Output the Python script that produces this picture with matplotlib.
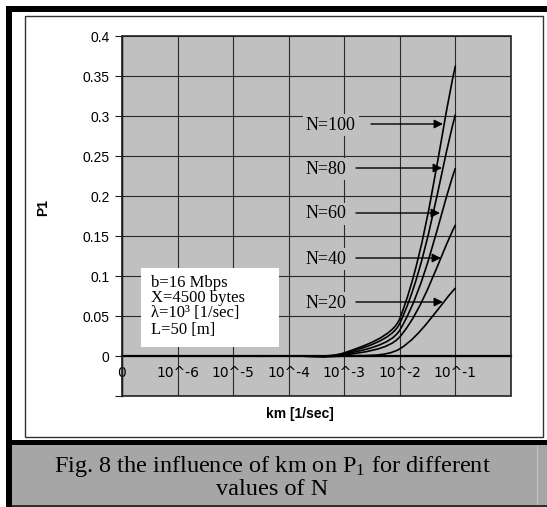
import numpy as np
import matplotlib
matplotlib.use('Agg')
import matplotlib.pyplot as plt
from matplotlib.patches import Rectangle, PathPatch
from matplotlib.path import Path

# data
km_labels = ['0', '10^-6', '10^-5', '10^-4', '10^-3', '10^-2', '10^-1']
p1_n20 = [0, 0, 0, 0, 0.0, 0.009, 0.085]
p1_n40 = [0, 0, 0, 0, 0.001, 0.024, 0.164]
p1_n60 = [0, 0, 0, 0, 0.002, 0.0325, 0.235]
p1_n80 = [0, 0, 0, 0, 0.003, 0.041, 0.302]
p1_n100 = [0, 0, 0, 0, 0.004, 0.047, 0.363]
series = [p1_n20, p1_n40, p1_n60, p1_n80, p1_n100]
n_labels = ['N=20', 'N=40', 'N=60', 'N=80', 'N=100']

info_lines = ['b=16 Mbps', 'X=4500 bytes', 'λ=10³ [1/sec]', 'L=50 [m]']

W, H = 547, 507
SERIF = ['Liberation Serif', 'DejaVu Serif']
SANS = ['Liberation Sans', 'DejaVu Sans']
PX_X = (511 - 122) / 7    # pixels per category
PX_Y = 800                # pixels per unit of P1


def fx(px):
    return px / W


def fy(py):
    return 1 - py / H


def smooth_path(xs, ys):
    # smoothed line like excel: tangents from neighbours, handle length from segment length (screen space)
    pts = np.column_stack([np.asarray(xs, float) * PX_X, np.asarray(ys, float) * PX_Y])
    n = len(pts)
    tang = []
    for i in range(n):
        d = pts[min(i + 1, n - 1)] - pts[max(i - 1, 0)]
        tang.append(d / np.hypot(*d))
    verts = [pts[0]]
    codes = [Path.MOVETO]
    for i in range(n - 1):
        seg = np.hypot(*(pts[i + 1] - pts[i]))
        verts += [pts[i] + tang[i] * seg * 0.3, pts[i + 1] - tang[i + 1] * seg * 0.3, pts[i + 1]]
        codes += [Path.CURVE4] * 3
    verts = np.array(verts) / [PX_X, PX_Y]
    return Path(verts, codes)


fig = plt.figure(figsize=(W / 100, H / 100), dpi=100)
fig.patch.set_facecolor('white')

# outer frame and caption band
def frect(x0, y0, x1, y1, **kw):
    r = Rectangle((fx(x0), fy(y1)), fx(x1) - fx(x0), fy(y0) - fy(y1),
                  transform=fig.transFigure, **kw)
    fig.patches.append(r)
    return r

frect(6, 6, 547, 12, facecolor='black', edgecolor='none')
frect(6, 6, 12, 507, facecolor='black', edgecolor='none')
frect(12, 440, 547, 445, facecolor='black', edgecolor='none')
frect(12, 445, 547, 506, facecolor='#a6a6a6', edgecolor='none')
frect(536.5, 445, 537.5, 506, facecolor='#c4c4c4', edgecolor='none')
frect(12, 505, 547, 506.5, facecolor='#303030', edgecolor='none')
frect(25, 16, 543, 437, facecolor='none', edgecolor='#333333', lw=1)

ax = fig.add_axes([fx(122), fy(396), fx(511) - fx(122), fy(36) - fy(396)])
ax.set_facecolor('#c0c0c0')
x = np.arange(len(km_labels))
ax.set_xlim(0, 7)
ax.set_ylim(-0.05, 0.4)

yt = np.round(np.arange(-0.05, 0.401, 0.05), 2)
ax.set_yticks(yt)
ax.set_yticklabels(['' if v < 0 else f'{v:g}' for v in yt], fontfamily=SANS, fontsize=10)
ax.set_xticks(x)
ax.set_xticklabels(km_labels, fontfamily=SANS, fontsize=10)
ax.tick_params(axis='y', length=5, direction='out', pad=4, color='#222222')
ax.tick_params(axis='x', length=0, pad=7)
ax.set_axisbelow(True)
ax.grid(True, color='#2a2a2a', lw=0.8)

for s in ['top', 'right']:
    ax.spines[s].set_visible(False)
ax.spines['left'].set_color('black')
ax.spines['left'].set_linewidth(1.0)
ax.spines['bottom'].set_position(('data', 0))
ax.spines['bottom'].set_color('black')
ax.spines['bottom'].set_linewidth(1.6)
ax.add_patch(Rectangle((0, 0), 1, 1, transform=ax.transAxes, fill=False,
                       edgecolor='#222222', lw=1.2, clip_on=False, zorder=5))

for ys in series:
    ax.add_patch(PathPatch(smooth_path(x, ys), fill=False, edgecolor='black', lw=1.2, zorder=3))

# arrow labels (pixel layout -> data)
def dx(px):
    return (px - 122) / PX_X


def dy(py):
    return (356 - py) / PX_Y

lab_y = [303, 259, 214, 169, 125]
arr_start = [356, 356, 356, 356, 371]
arr_end = [443, 441, 440, 442, 443]
for lab, ly, a0, a1 in zip(n_labels, lab_y, arr_start, arr_end):
    ax.annotate('', xy=(dx(a1), dy(ly - 1)), xytext=(dx(a0), dy(ly - 1)),
                arrowprops=dict(arrowstyle='-|>', color='black', lw=1, mutation_scale=13,
                                shrinkA=0, shrinkB=0), zorder=6)
    ax.text(dx(306), dy(ly), lab, ha='left', va='center', fontfamily=SERIF, fontsize=13,
            zorder=5, bbox=dict(facecolor='#c0c0c0', edgecolor='none', pad=2))

# info box
frect(141, 268, 279, 347, facecolor='white', edgecolor='none', zorder=2)
for line, ly in zip(info_lines, [283, 298, 313, 330]):
    fig.text(fx(151), fy(ly), line, ha='left', va='center', fontfamily=SERIF, fontsize=12, zorder=3)

fig.text(fx(43), fy(208), 'P1', rotation=90, ha='center', va='center',
         fontfamily=SANS, fontsize=10, fontweight='bold')
fig.text(fx(300), fy(414), 'km [1/sec]', ha='center', va='center',
         fontfamily=SANS, fontsize=10, fontweight='bold')

fig.text(fx(272), fy(477), 'Fig. 8 the influence of km on P$\\mathregular{_1}$ for different\nvalues of N',
         ha='center', va='center', multialignment='center', fontfamily=SERIF, fontsize=17.5,
         linespacing=0.95, zorder=3)

fig.savefig('out.png', dpi=100)
